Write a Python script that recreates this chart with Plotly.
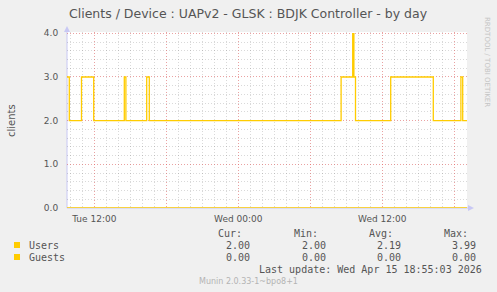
import plotly.graph_objects as go

# ---------------- data ----------------
users_times = [
    "2026-04-14 09:43:30", "2026-04-14 09:55", "2026-04-14 10:56", "2026-04-14 11:57",
    "2026-04-14 14:30", "2026-04-14 14:38", "2026-04-14 16:22", "2026-04-14 16:35",
    "2026-04-15 08:34", "2026-04-15 09:32", "2026-04-15 09:38", "2026-04-15 09:46",
    "2026-04-15 12:42", "2026-04-15 16:15", "2026-04-15 18:33", "2026-04-15 18:42",
    "2026-04-15 19:03:30",
]
users_values = [3, 2, 3, 2, 3, 2, 3, 2, 3, 3.99, 3, 2, 3, 2, 3, 2, 2]

guests_times = ["2026-04-14 09:43:30", "2026-04-15 19:03:30"]
guests_values = [0, 0]

x_range = ["2026-04-14 09:43:30", "2026-04-15 19:03:30"]
x_tickvals = ["2026-04-14 12:00", "2026-04-14 18:00", "2026-04-15 00:00",
              "2026-04-15 06:00", "2026-04-15 12:00", "2026-04-15 18:00"]
x_ticktext = ["Tue 12:00", "", "Wed 00:00", "", "Wed 12:00", ""]
y_tickvals = [0, 1, 2, 3, 4]
y_ticktext = ["0.0", "1.0", "2.0", "3.0", "4.0"]

series_names = ["Users", "Guests"]
series_colors = ["#FFCC00", "#FFCC00"]
stat_headers = ["Cur:", "Min:", "Avg:", "Max:"]
stat_values = [
    ["2.00", "2.00", "2.19", "3.99"],
    ["0.00", "0.00", "0.00", "0.00"],
]

title_text = "Clients / Device : UAPv2 - GLSK : BDJK Controller - by day"
last_update = "Last update: Wed Apr 15 18:55:03 2026"
munin_ver = "Munin 2.0.33-1~bpo8+1"
side_text = "RRDTOOL / TOBI OETIKER"

# ---------------- layout helpers ----------------
W, H = 497, 292
L, R, T, B = 67, 30, 32, 84
PW, PH = W - L - R, H - T - B


def X(px):
    return (px - L) / PW


def Y(py):
    return (H - B - py) / PH


TXT = "#555555"
SANS = "DejaVu Sans"
MONO = "DejaVu Sans Mono"

fig = go.Figure()
fig.add_trace(go.Scatter(x=guests_times, y=guests_values, mode="lines",
                         line=dict(color=series_colors[1], width=1.3, shape="hv"),
                         showlegend=False, hoverinfo="skip"))
fig.add_trace(go.Scatter(x=users_times, y=users_values, mode="lines",
                         line=dict(color=series_colors[0], width=1.3, shape="hv"),
                         showlegend=False, hoverinfo="skip"))

anns = []
anns.append(dict(text=title_text, x=X(248), y=Y(13.5), xanchor="center", yanchor="middle",
                 font=dict(family=SANS, size=12.5, color=TXT)))
anns.append(dict(text="clients", x=X(11), y=Y(120), xanchor="center", yanchor="middle",
                 textangle=-90, font=dict(family=SANS, size=10, color=TXT)))
anns.append(dict(text=side_text, x=X(487), y=Y(15), xanchor="center", yanchor="top",
                 textangle=90, font=dict(family=SANS, size=7, color="#C4C4C4")))

header_right = [244, 320, 395, 470]
value_right = [251.5, 327.5, 402.5, 478]
for hx, h in zip(header_right, stat_headers):
    anns.append(dict(text=h, x=X(hx), y=Y(233.5), xanchor="right", yanchor="middle",
                     font=dict(family=MONO, size=10, color=TXT)))
row_y = [245.5, 257.5]
shapes = []
for i, name in enumerate(series_names):
    anns.append(dict(text=name, x=X(26.5), y=Y(row_y[i]), xanchor="left", yanchor="middle",
                     font=dict(family=MONO, size=10, color=TXT)))
    for vx, v in zip(value_right, stat_values[i]):
        anns.append(dict(text=v, x=X(vx), y=Y(row_y[i]), xanchor="right", yanchor="middle",
                         font=dict(family=MONO, size=10, color=TXT)))
    shapes.append(dict(type="rect", xref="paper", yref="paper",
                       x0=X(14), x1=X(20), y0=Y(row_y[i] - 3.5), y1=Y(row_y[i] + 2.5),
                       fillcolor=series_colors[i], line=dict(width=0)))
anns.append(dict(text=last_update, x=X(484), y=Y(269.8), xanchor="right", yanchor="middle",
                 font=dict(family=MONO, size=10, color=TXT)))
anns.append(dict(text=munin_ver, x=X(248), y=Y(281), xanchor="center", yanchor="middle",
                 font=dict(family=SANS, size=8, color="#B4B4B4")))
for a in anns:
    a.update(xref="paper", yref="paper", showarrow=False)

AX = "#C8C8F4"
# axis arrows
shapes.append(dict(type="path", xref="paper", yref="paper",
                   path=f"M {X(64)},{Y(32)} L {X(70)},{Y(32)} L {X(67)},{Y(26)} Z",
                   fillcolor=AX, line=dict(width=0)))
shapes.append(dict(type="path", xref="paper", yref="paper",
                   path=f"M {X(468)},{Y(205)} L {X(468)},{Y(211)} L {X(474)},{Y(208)} Z",
                   fillcolor=AX, line=dict(width=0)))
shapes.append(dict(type="line", xref="paper", yref="paper", x0=X(67), x1=X(67),
                   y0=Y(208), y1=Y(30), line=dict(color=AX, width=1), layer="below"))
shapes.append(dict(type="line", xref="paper", yref="paper", x0=X(67), x1=X(470),
                   y0=Y(208), y1=Y(208), line=dict(color=AX, width=1), layer="below"))

MAJ = "rgba(255,95,95,0.45)"
MIN = "rgba(95,95,95,0.24)"

fig.update_layout(
    width=W, height=H,
    margin=dict(l=L, r=R, t=T, b=B, pad=0),
    paper_bgcolor="#F0F0F0", plot_bgcolor="#FFFFFF",
    showlegend=False,
    annotations=anns, shapes=shapes,
    xaxis=dict(type="date", range=x_range, tickmode="array", tickvals=x_tickvals,
               ticktext=x_ticktext, showgrid=True, gridcolor=MAJ, griddash="1px,2px",
               gridwidth=1, zeroline=False, showline=False,
               ticks="outside", ticklen=2, tickcolor="rgba(0,0,0,0)",
               tickfont=dict(family=SANS, size=9, color=TXT),
               minor=dict(dtick=3600000, tick0="2026-04-14 00:00", showgrid=True,
                          gridcolor=MIN, griddash="1px,2px", gridwidth=1, ticks="")),
    yaxis=dict(range=[0, 4.03], tickmode="array", tickvals=y_tickvals, ticktext=y_ticktext,
               showgrid=True, gridcolor=MAJ, griddash="1px,2px", gridwidth=1,
               zeroline=False, showline=False,
               ticks="outside", ticklen=6, tickcolor="rgba(0,0,0,0)",
               tickfont=dict(family=SANS, size=9, color=TXT),
               minor=dict(dtick=0.2, tick0=0, showgrid=True, gridcolor=MIN,
                          griddash="1px,2px", gridwidth=1, ticks="")),
)

fig.write_html("out.html")
